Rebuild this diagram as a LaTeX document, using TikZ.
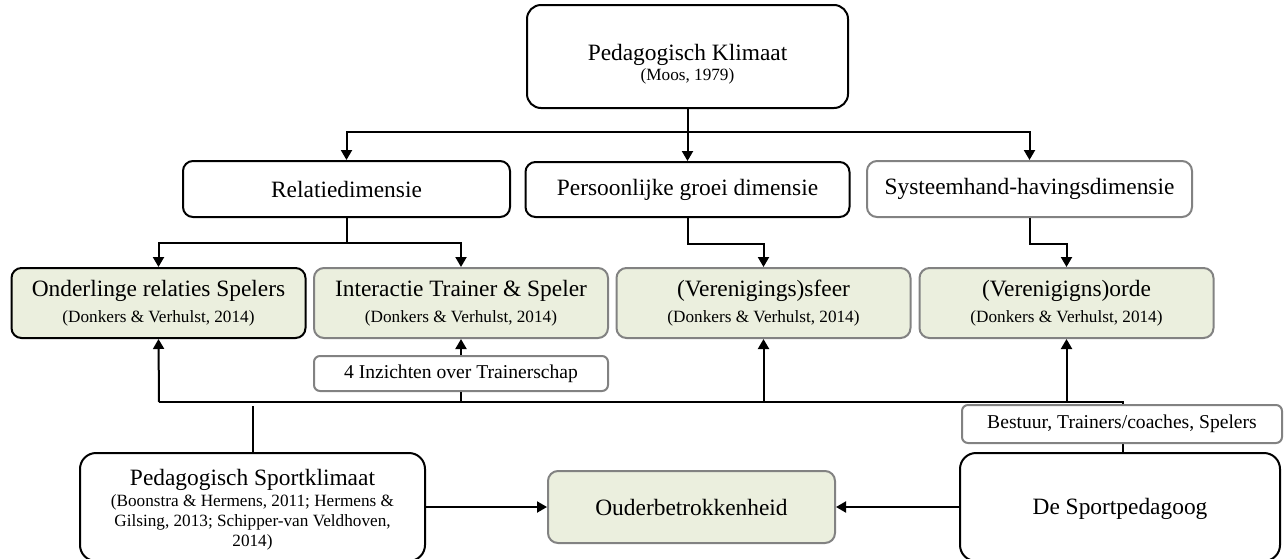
\documentclass[tikz,border=0pt]{standalone}
\usepackage{fontspec}
\setmainfont{Liberation Serif}
\usetikzlibrary{arrows.meta, positioning, calc}
\definecolor{boxgreen}{RGB}{235,239,222}
\definecolor{boxgrey}{RGB}{130,130,130}
\newcommand{\bigfnt}{\fontsize{11.7}{13}\selectfont}
\newcommand{\subfnt}{\fontsize{8.6}{10}\selectfont}
\newcommand{\midfnt}{\fontsize{9.8}{11}\selectfont}
\tikzset{
    klbox/.style={rectangle, rounded corners=5pt, draw=black, line width=1pt, fill=white, inner sep=0pt, align=center, font=\bigfnt},
    klgrey/.style={klbox, draw=boxgrey},
    klgreen/.style={klbox, fill=boxgreen},
    klgreengrey/.style={klbox, fill=boxgreen, draw=boxgrey},
    klrow/.style={minimum width=147pt, minimum height=35pt},
    kllabel/.style={klgrey, rounded corners=3pt, font=\midfnt},
    klarrow/.style={-{Triangle[length=5pt,width=5.5pt]}, line width=1pt},
    klline/.style={line width=1pt}
}
\begin{document}
\begin{tikzpicture}[x=0.5pt, y=-0.5pt]
    \useasboundingbox (0,0) rectangle (1284,558);

    % Top and dimensions
    \node[klbox, rounded corners=7pt, minimum width=160.5pt, minimum height=51.5pt] (klimaat) at (687.5,56.5) {\rule{0pt}{15.5pt}Pedagogisch Klimaat\\[-3pt]{\subfnt (Moos, 1979)}};
    \node[klbox, minimum width=163.5pt, minimum height=28pt] (relatie) at (346.5,189) {Relatiedimensie};
    \node[klbox, minimum width=162pt, minimum height=27.5pt] (groei) at (687.5,189.5) {Persoonlijke groei dimensie};
    \node[klgrey, minimum width=162.5pt, minimum height=28pt] (systeem) at (1029.5,189) {Systeemhand-havingsdimensie};

    % Green row
    \node[klgreen, klrow] (onderling) at (158.5,303) {Onderlinge relaties Spelers\\{\subfnt (Donkers \& Verhulst, 2014)}};
    \node[klgreengrey, klrow] (interactie) at (461,303) {Interactie Trainer \& Speler\\{\subfnt (Donkers \& Verhulst, 2014)}};
    \node[klgreengrey, klrow] (sfeer) at (763.5,303) {(Verenigings)sfeer\\{\subfnt (Donkers \& Verhulst, 2014)}};
    \node[klgreengrey, klrow] (orde) at (1066.5,303) {(Verenigigns)orde\\{\subfnt (Donkers \& Verhulst, 2014)}};

    \node[kllabel, minimum width=147pt, minimum height=17.5pt] (inzicht) at (461,373.5) {4 Inzichten over Trainerschap};

    % Bottom row
    \node[klbox, rounded corners=8pt, minimum width=172.5pt, minimum height=54pt] (sportklimaat) at (252.5,507) {\rule{0pt}{11pt}Pedagogisch Sportklimaat\\[-2.5pt]{\subfnt (Boonstra \& Hermens, 2011; Hermens \&}\\[-3pt]{\subfnt Gilsing, 2013; Schipper-van Veldhoven,}\\[-3pt]{\subfnt 2014)}};
    \node[klgreengrey, minimum width=143.5pt, minimum height=36pt] (ouder) at (691.5,507) {Ouderbetrokkenheid};
    \node[klbox, rounded corners=8pt, minimum width=160pt, minimum height=54pt] (pedagoog) at (1120,507) {\rule{0pt}{10.5pt}De Sportpedagoog};

    \coordinate (split) at (687.5,132);
    \coordinate (busR) at (1123,402);
    \coordinate (busL) at (159,402);
    \coordinate (gap) at (252.5,406);

    % Klimaat to dimensions
    \draw[klarrow] (klimaat.south) -- (groei.north);
    \draw[klarrow] (split) -| (relatie.north);
    \draw[klarrow] (split) -| (systeem.north);

    % Dimensions to green row
    \draw[klarrow] (relatie.south) -- ++(0,25) -| (onderling.north);
    \draw[klarrow] (relatie.south) -- ++(0,25) -| (interactie.north);
    \draw[klarrow] (groei.south) -- ++(0,26) -| (sfeer.north);
    \draw[klarrow] (systeem.south) -- ++(0,26) -| (orde.north);

    % Bus from the sportpedagoog
    \draw[klline] (busR |- pedagoog.north) -- (busR) -- (busL);
    \draw[klarrow] (busL) -- (onderling.south);
    \draw[klarrow] (sfeer.south |- busR) -- (sfeer.south);
    \draw[klarrow] (orde.south |- busR) -- (orde.south);
    \draw[klline] (inzicht.south) -- (inzicht.south |- busR);
    \draw[klarrow] (inzicht.north) -- (interactie.south);
    \draw[klline] (sportklimaat.north) -- (gap);

    \node[kllabel, minimum width=160pt, minimum height=19pt] (bestuur) at (1122,424) {Bestuur, Trainers/coaches, Spelers};

    % Towards Ouderbetrokkenheid
    \draw[klarrow] (sportklimaat.east) -- (ouder.west);
    \draw[klarrow] (pedagoog.west) -- (ouder.east);
\end{tikzpicture}
\end{document}
